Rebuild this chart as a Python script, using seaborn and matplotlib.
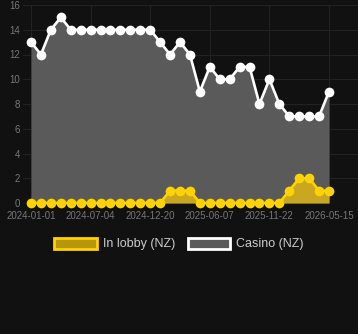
import matplotlib
matplotlib.use("Agg")
import matplotlib.pyplot as plt
import seaborn as sns
import pandas as pd
from matplotlib.patches import Patch

casino = [13, 12, 14, 15, 14, 14, 14, 14, 14, 14, 14, 14, 14, 13, 12, 13, 12, 9,
          11, 10, 10, 11, 11, 8, 10, 8, 7, 7, 7, 7, 9]
lobby = [0, 0, 0, 0, 0, 0, 0, 0, 0, 0, 0, 0, 0, 0, 1, 1, 1, 0,
         0, 0, 0, 0, 0, 0, 0, 0, 1, 2, 2, 1, 1]
tick_pos = [0, 6, 12, 18, 24, 30]
tick_labels = ["2024-01-01", "2024-07-04", "2024-12-20", "2025-06-07", "2025-11-22", "2026-05-15"]

idx = list(range(len(casino)))
df = pd.DataFrame({"i": idx, "casino": casino, "lobby": lobby})

sns.set_style("dark")
plt.rcParams['font.family'] = ['Liberation Sans', 'DejaVu Sans']

bg = "#111111"
fig = plt.figure(figsize=(3.58, 3.34), dpi=100, facecolor=bg)
left = 23 / 358
bottom = 1 - 203 / 334
top = 1 - 5 / 334
ax = fig.add_axes([left, bottom, 1 - left, top - bottom])
ax.set_facecolor(bg)

yellow = "#ffd200"
gold_fill = "#c9a71e"
grey_fill = "#5a5a5a"

ax.fill_between(df["i"], 0, df["casino"], color=grey_fill, linewidth=0, zorder=2)
ax.fill_between(df["i"], 0, df["lobby"], color=gold_fill, linewidth=0, zorder=3)

sns.lineplot(data=df, x="i", y="casino", ax=ax, color="white", linewidth=1.9,
             marker="o", markersize=7, markeredgewidth=0, zorder=4, clip_on=False)
sns.lineplot(data=df, x="i", y="lobby", ax=ax, color=yellow, linewidth=1.9,
             marker="o", markersize=7, markeredgewidth=0, zorder=5, clip_on=False)

step = 298 / 30
ax.set_xlim(-8 / step, 30 + 29 / step)
ax.set_ylim(0, 16)
ax.set_yticks(range(0, 17, 2))
ax.set_xticks(tick_pos)
ax.set_xticklabels(tick_labels)
ax.grid(True, color="#222222", linewidth=0.8)
ax.set_axisbelow(True)
for s in ax.spines.values():
    s.set_visible(False)
ax.tick_params(axis="both", colors="#777777", labelsize=7, length=0)
ax.tick_params(axis="y", pad=2)
ax.tick_params(axis="x", pad=6)
ax.set_xlabel("")
ax.set_ylabel("")

handles = [Patch(facecolor="#b8960a", edgecolor=yellow, linewidth=2, label="In lobby (NZ)"),
           Patch(facecolor=grey_fill, edgecolor="white", linewidth=2, label="Casino (NZ)")]
leg = fig.legend(handles=handles, loc="center", bbox_to_anchor=(0.5, 1 - 244 / 334),
                 ncol=2, frameon=False, fontsize=9, labelcolor="#cccccc",
                 handlelength=3.4, handleheight=1.0, columnspacing=1.0, handletextpad=0.5)

fig.savefig("out.png", dpi=100, facecolor=bg)
